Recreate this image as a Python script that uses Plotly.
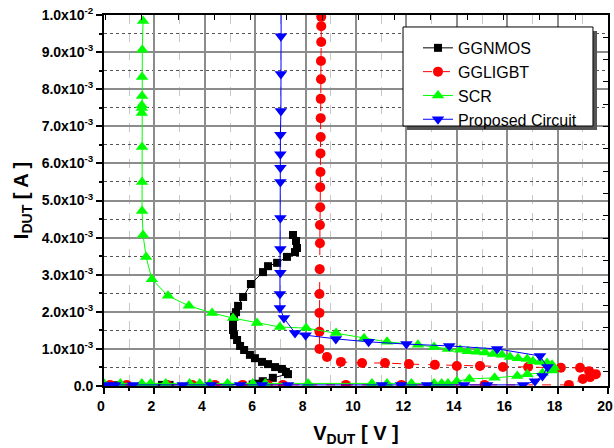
import plotly.graph_objects as go

# ---------------- data (V in volts, I in mA -> converted to A) ----------------
ggnmos_v = [0, 0.4, 2.3, 2.6, 5.9, 6.1, 6.3, 6.7, 7.3, 7.22, 7.06, 6.79, 6.51, 6.27, 5.99, 5.79,
            5.56, 5.40, 5.28, 5.16, 5.12, 5.12, 5.16, 5.24, 5.32, 5.52, 5.83, 6.31, 6.51, 6.87,
            7.26, 7.58, 7.66, 7.62, 7.50]
ggnmos_i_ma = [0.02, 0.02, 0.03, 0.03, 0.04, 0.06, 0.13, 0.22, 0.32, 0.38, 0.46, 0.51, 0.59, 0.65,
               0.75, 0.84, 0.97, 1.08, 1.24, 1.37, 1.51, 1.67, 1.86, 1.99, 2.16, 2.40, 2.75, 3.07,
               3.23, 3.32, 3.48, 3.61, 3.72, 3.91, 4.07]

ggligbt_v = [0.24, 0.9, 2.5, 3.5, 4.4, 5.5, 6.5, 7.1, 9.6, 11.8, 15.1, 18.45,
             19.0, 19.29, 19.52, 19.25, 18.89, 18.13, 16.83, 15.83, 14.92, 14.0, 13.13, 12.10,
             11.15, 10.24, 9.40, 8.85,
             8.55, 8.55, 8.55, 8.55, 8.56, 8.57, 8.57, 8.58, 8.58, 8.59, 8.59, 8.60, 8.60, 8.60,
             8.61, 8.61, 8.62, 8.62, 8.62]
ggligbt_i_ma = [0.03] * 12 + [0.19, 0.24, 0.32, 0.40, 0.49, 0.49, 0.51, 0.51, 0.54, 0.54, 0.57,
                              0.59, 0.62, 0.62, 0.65, 0.78,
                              1.00, 1.46, 1.97, 2.48, 3.15, 3.85, 4.34, 4.82, 5.36, 5.77, 6.27,
                              6.71, 7.22, 7.74, 8.27, 8.76, 9.27, 9.70, 9.95]

scr_v = [0, 0.65, 1.5, 1.85, 2.45, 3.4, 3.8, 4.2, 4.9, 5.9, 6.4, 8.1, 10.63, 11.23, 12.2, 13.1,
         13.4, 13.65, 14.0, 14.5, 15.5, 16.4, 16.8, 17.4, 17.8,
         17.85, 17.78, 17.58, 17.30, 17.02, 16.79, 16.43, 16.11, 15.79, 15.44, 15.12, 14.80,
         14.44, 14.13, 13.65, 13.1, 12.46, 11.23, 10.32, 9.21, 8.02, 6.98, 6.07, 5.12, 4.29,
         3.37, 2.54, 1.90, 1.67, 1.55, 1.51, 1.51, 1.51, 1.50, 1.50, 1.50, 1.51, 1.51, 1.52, 1.55]
scr_i_ma = [0.07] * 18 + [0.13, 0.19, 0.22, 0.27, 0.32, 0.35, 0.42,
                          0.50, 0.57, 0.62, 0.65, 0.67, 0.73, 0.75, 0.78, 0.84, 0.86, 0.90, 0.92,
                          0.94, 0.98, 1.00, 1.05, 1.11, 1.19, 1.29, 1.43, 1.56, 1.59, 1.70, 1.83,
                          1.97, 2.16, 2.43, 2.88, 3.48, 4.07, 4.72, 5.50, 6.44, 7.36, 7.49, 7.57,
                          7.82, 8.33, 9.06, 9.84]

prop_v = [0.12, 0.44, 1.15, 3.13, 4.25, 5.40, 6.27, 7.30, 11.03, 11.79, 12.82, 14.29, 15.20, 16.63,
          17.1, 17.4, 17.6, 17.3, 15.6, 13.7, 12.0, 10.5, 9.2, 8.0, 7.58, 7.14, 6.98, 6.98,
          7.0, 7.0, 7.0, 7.0, 7.0, 7.0, 7.0, 7.02, 7.02, 7.02, 7.03]
prop_i_ma = [0.03] * 14 + [0.13, 0.27, 0.51, 0.81, 1.00, 1.08, 1.13, 1.19, 1.27, 1.37, 1.43, 1.83,
                           2.10, 2.48, 3.05, 3.69, 4.53, 5.50, 5.88, 6.25, 6.77, 7.41, 8.41, 9.43,
                           10.4]

y_tick_vals = [i * 1e-3 for i in range(11)]
y_tick_text = ["0.0"] + ["%d.0x10<sup>-3</sup>" % k for k in range(1, 10)] + ["1.0x10<sup>-2</sup>"]
x_tick_vals = list(range(0, 21, 2))

FONT = "Arial, Liberation Sans, sans-serif"

series = [
    ("GGNMOS", ggnmos_v, ggnmos_i_ma, "black", "square", 8, "solid"),
    ("GGLIGBT", ggligbt_v, ggligbt_i_ma, "#ff0000", "circle", 10, "dash"),
    ("SCR", scr_v, scr_i_ma, "#00ff00", "triangle-up", 11, "solid"),
    ("Proposed Circuit", prop_v, prop_i_ma, "#0000ff", "triangle-down", 11, "solid"),
]

fig = go.Figure()
for name, v, i_ma, col, sym, sz, dash in series:
    fig.add_trace(go.Scatter(
        x=v, y=[a * 1e-3 for a in i_ma], name=name, mode="lines+markers",
        line=dict(color=col, width=1, dash=dash),
        marker=dict(color=col, symbol=sym, size=sz, line=dict(width=0)),
    ))

# dummy trace to activate the secondary (tick-only) axes
fig.add_trace(go.Scatter(x=[None], y=[None], xaxis="x2", yaxis="y2", showlegend=False,
                         hoverinfo="skip", mode="markers"))

fig.update_layout(
    width=614, height=448,
    margin=dict(l=104, r=6, t=15, b=62),
    paper_bgcolor="white", plot_bgcolor="white",
    font=dict(family=FONT, color="black"),
    showlegend=True,
    legend=dict(x=0.623, y=0.957, xanchor="left", yanchor="top",
                bgcolor="rgba(0,0,0,0)", borderwidth=0,
                font=dict(size=16, family=FONT), tracegroupgap=0),
    xaxis=dict(
        range=[0, 20], tickvals=x_tick_vals, ticks="outside", ticklen=6, tickwidth=1.5,
        tickcolor="black", automargin=False, ticklabeloverflow="allow", ticklabelshift=-3,
        tickfont=dict(size=14, family=FONT, weight="bold"),
        showline=True, linecolor="black", linewidth=2, mirror=True,
        showgrid=True, gridcolor="#8c8c8c", gridwidth=1.5, zeroline=False,
        minor=dict(dtick=1, tick0=0, ticks="outside", ticklen=3, tickcolor="black",
                   showgrid=True, gridcolor="#c8c8c8", griddash="dash", gridwidth=1),
        title=dict(text="<b>V<sub>DUT</sub> [ V ]</b>", font=dict(size=20, family=FONT),
                   standoff=13),
    ),
    yaxis=dict(
        range=[0, 0.01], tickvals=y_tick_vals, ticktext=y_tick_text, ticks="outside",
        ticklen=6, tickwidth=1.5, tickcolor="black", automargin=False,
        tickfont=dict(size=14, family=FONT, weight="bold"),
        showline=True, linecolor="black", linewidth=2, mirror=True,
        showgrid=True, gridcolor="#8c8c8c", gridwidth=1.5, zeroline=False,
        minor=dict(dtick=0.0005, tick0=0, ticks="outside", ticklen=3, tickcolor="black",
                   showgrid=True, gridcolor="#555555", griddash="dot", gridwidth=1),
        title=dict(text="<b>I<sub>DUT</sub> [ A ]</b>", font=dict(size=20, family=FONT),
                   standoff=8),
    ),
    xaxis2=dict(overlaying="x", side="top", range=[-0.05, 13.9], dtick=1, tick0=0,
                ticks="inside", ticklen=5, tickcolor="black", showticklabels=False,
                showgrid=False, zeroline=False, showline=False, automargin=False),
    yaxis2=dict(overlaying="y", side="right", range=[-0.63, 16], dtick=1, tick0=0,
                ticks="inside", ticklen=5, tickcolor="black", showticklabels=False,
                showgrid=False, zeroline=False, showline=False, automargin=False),
    shapes=[
        dict(type="rect", xref="paper", yref="paper",
             x0=0.6012, x1=0.9782, y0=0.690, y1=0.9569,
             fillcolor="#555555", line=dict(width=0), layer="above"),
        dict(type="rect", xref="paper", yref="paper",
             x0=0.5933, x1=0.9702, y0=0.7008, y1=0.9677,
             fillcolor="white", line=dict(color="black", width=1), layer="above"),
    ],
)

fig.write_html("out.html", config={"displayModeBar": False},
               post_script="document.body.style.margin='0';document.body.style.overflow='hidden';")
